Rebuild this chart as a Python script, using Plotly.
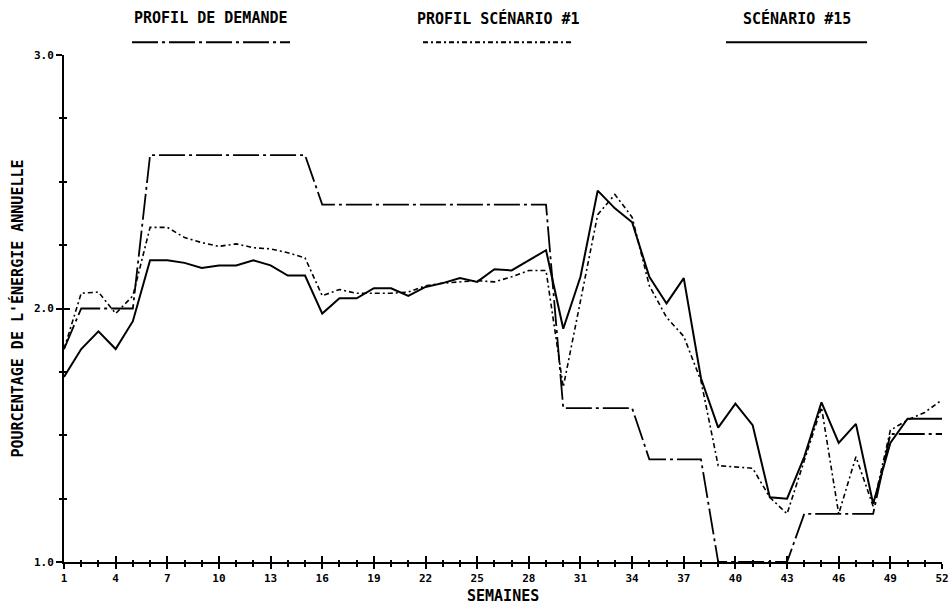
import plotly.graph_objects as go

weeks = list(range(1, 53))

profil_demande = [1.84, 2.0, 2.0, 2.0, 2.0,
                  2.605, 2.605, 2.605, 2.605, 2.605, 2.605, 2.605, 2.605, 2.605, 2.605,
                  2.41, 2.41, 2.41, 2.41, 2.41, 2.41, 2.41, 2.41, 2.41, 2.41, 2.41, 2.41, 2.41, 2.41,
                  1.607, 1.607, 1.607, 1.607, 1.607,
                  1.405, 1.405, 1.405, 1.405,
                  1.0, 1.0, 1.0, 1.0, 1.0,
                  1.19, 1.19, 1.19, 1.19, 1.19,
                  1.505, 1.505, 1.505, 1.505]

profil_scenario_1 = [1.84, 2.06, 2.065, 1.98, 2.05, 2.32, 2.32, 2.28, 2.26, 2.245,
                     2.255, 2.24, 2.235, 2.22, 2.2, 2.05, 2.075, 2.06, 2.06, 2.06,
                     2.065, 2.09, 2.10, 2.105, 2.11, 2.105, 2.125, 2.15, 2.15, 1.69,
                     2.03, 2.37, 2.45, 2.36, 2.09, 1.965, 1.89, 1.715, 1.38, 1.375,
                     1.37, 1.255, 1.19, 1.40, 1.61, 1.19, 1.415, 1.22, 1.52, 1.56,
                     1.59, 1.64]

scenario_15 = [1.73, 1.84, 1.91, 1.84, 1.95, 2.19, 2.19, 2.18, 2.16, 2.17,
               2.17, 2.19, 2.17, 2.13, 2.13, 1.98, 2.04, 2.04, 2.08, 2.08,
               2.05, 2.085, 2.10, 2.12, 2.105, 2.155, 2.15, 2.19, 2.23, 1.92,
               2.125, 2.465, 2.395, 2.34, 2.125, 2.02, 2.12, 1.725, 1.53, 1.625,
               1.54, 1.255, 1.25, 1.415, 1.63, 1.47, 1.545, 1.23, 1.47, 1.565,
               1.565, 1.565]

x_tick_vals = list(range(1, 53, 3))
y_tick_vals = [1.0, 2.0, 3.0]
y_tick_text = ["1.0", "2.0", "3.0"]

series_names = ["PROFIL DE DEMANDE", "PROFIL SCÉNARIO #1", "SCÉNARIO #15"]
dash_demande = "26px,4px,3px,4px"
dash_scen1 = "5px,3px,2px,3px"

MONO = "DejaVu Sans Mono"

fig = go.Figure()
fig.add_trace(go.Scatter(x=weeks, y=profil_demande, mode="lines", name=series_names[0],
                         line=dict(color="black", width=1.8, dash=dash_demande)))
fig.add_trace(go.Scatter(x=weeks, y=profil_scenario_1, mode="lines", name=series_names[1],
                         line=dict(color="black", width=1.6, dash=dash_scen1)))
fig.add_trace(go.Scatter(x=weeks, y=scenario_15, mode="lines", name=series_names[2],
                         line=dict(color="black", width=2.0)))

axis_common = dict(showgrid=False, zeroline=False, showline=True, linecolor="black", linewidth=2,
                   tickcolor="black", tickwidth=2, automargin=False)

fig.update_layout(
    width=950, height=605,
    margin=dict(l=64, r=8, t=55, b=43),
    paper_bgcolor="white", plot_bgcolor="white",
    showlegend=False,
    font=dict(family=MONO, color="black"),
    xaxis=dict(range=[1, 52], tickvals=x_tick_vals, ticktext=[str(v) for v in x_tick_vals],
               ticks="outside", ticklen=5,
               tickfont=dict(family=MONO, size=11, weight="bold"),
               minor=dict(dtick=1, tick0=1, ticks="outside", ticklen=3, tickcolor="black", tickwidth=1.5),
               **axis_common),
    yaxis=dict(range=[1, 3], tickvals=y_tick_vals, ticktext=y_tick_text,
               ticks="outside", ticklen=6,
               tickfont=dict(family=MONO, size=11, weight="bold"),
               minor=dict(dtick=0.25, tick0=1, ticks="outside", ticklen=3, tickcolor="black", tickwidth=1.5),
               **axis_common),
    xaxis2=dict(overlaying="x", matches="x", range=[1, 52], tickvals=x_tick_vals, showticklabels=False,
                ticks="inside", ticklen=6, showgrid=False, zeroline=False, showline=False,
                tickcolor="black", tickwidth=2, side="bottom", automargin=False,
                minor=dict(dtick=1, tick0=1, ticks="inside", ticklen=2, tickcolor="black", tickwidth=1.5)),
    yaxis2=dict(overlaying="y", matches="y", range=[1, 3], tickvals=y_tick_vals, showticklabels=False,
                ticks="inside", ticklen=6, showgrid=False, zeroline=False, showline=False,
                tickcolor="black", tickwidth=2, side="left", automargin=False,
                minor=dict(dtick=0.25, tick0=1, ticks="inside", ticklen=3, tickcolor="black", tickwidth=1.5)),
)
# invisible trace to activate the overlay axes
fig.add_trace(go.Scatter(x=[1], y=[1], xaxis="x2", yaxis="y2", mode="markers",
                         marker=dict(opacity=0), hoverinfo="skip", showlegend=False))

# Axis titles
fig.add_annotation(text="SEMAINES", xref="paper", yref="paper", x=0.5, y=0, yshift=-34,
                   xanchor="center", yanchor="middle", showarrow=False,
                   font=dict(family=MONO, size=15, weight="bold"))
fig.add_annotation(text="POURCENTAGE DE L'ÉNERGIE ANNUELLE", xref="paper", yref="paper",
                   x=0, xshift=-47, y=0.5, xanchor="center", yanchor="middle",
                   textangle=-90, showarrow=False,
                   font=dict(family=MONO, size=15, weight="bold"))

# Top legend: labels with line samples beneath
legend_items = [
    (series_names[0], (132 - 64) / 878, (290 - 64) / 878, dash_demande),
    (series_names[1], (423 - 64) / 878, (573 - 64) / 878, dash_scen1),
    (series_names[2], (726 - 64) / 878, (867 - 64) / 878, "solid"),
]
for name, x0, x1, dash in legend_items:
    fig.add_annotation(text=name, xref="paper", yref="paper", x=(x0 + x1) / 2, y=1,
                       yshift=37, xanchor="center", yanchor="middle", showarrow=False,
                       font=dict(family=MONO, size=15, weight="bold"))
    fig.add_shape(type="line", xref="paper", yref="paper", x0=x0, x1=x1, y0=1.025, y1=1.025,
                  line=dict(color="black", width=2, dash=dash))

fig.write_html("out.html", config={"displayModeBar": False},
               post_script="document.body.style.margin='0';document.body.style.overflow='hidden';")
